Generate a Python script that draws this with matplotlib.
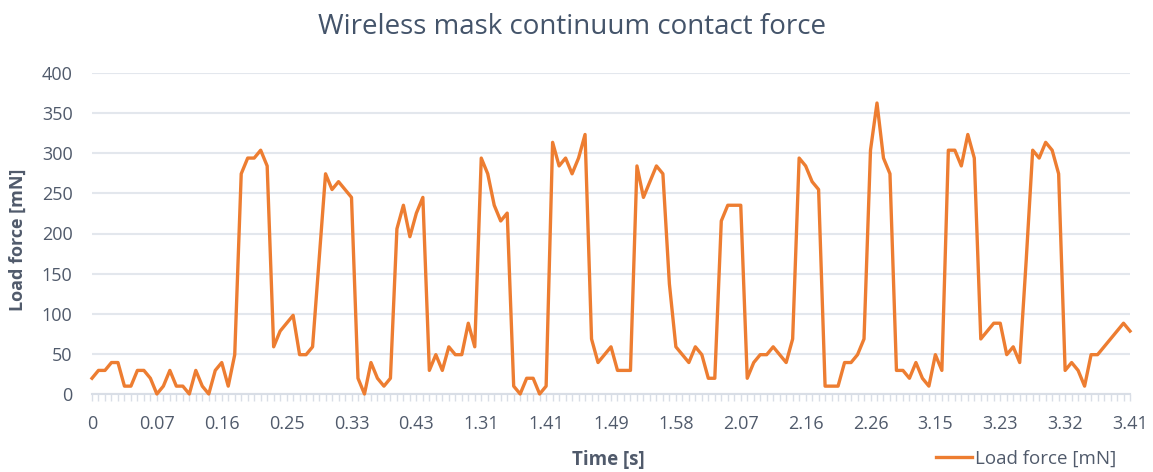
import matplotlib
matplotlib.use("Agg")
import matplotlib.pyplot as plt
import numpy as np

title = "Wireless mask continuum contact force"
x_label = "Time [s]"
y_label = "Load force [mN]"
series_name = "Load force [mN]"

tick_labels = ["0", "0.07", "0.16", "0.25", "0.33", "0.43", "1.31", "1.41", "1.49",
               "1.58", "2.07", "2.16", "2.26", "3.15", "3.23", "3.32", "3.41"]

load_force = [
    19.6, 29.4, 29.4, 39.2, 39.2, 9.8, 9.8, 29.4, 29.4, 19.6,
    0.0, 9.8, 29.4, 9.8, 9.8, 0.0, 29.4, 9.8, 0.0, 29.4,
    39.2, 9.8, 49.0, 274.4, 294.0, 294.0, 303.8, 284.2, 58.8, 78.4,
    88.2, 98.0, 49.0, 49.0, 58.8, 166.6, 274.4, 254.8, 264.6, 254.8,
    245.0, 19.6, 0.0, 39.2, 19.6, 9.8, 19.6, 205.8, 235.2, 196.0,
    225.4, 245.0, 29.4, 49.0, 29.4, 58.8, 49.0, 49.0, 88.2, 58.8,
    294.0, 274.4, 235.2, 215.6, 225.4, 9.8, 0.0, 19.6, 19.6, 0.0,
    9.8, 313.6, 284.2, 294.0, 274.4, 294.0, 323.4, 68.6, 39.2, 49.0,
    58.8, 29.4, 29.4, 29.4, 284.2, 245.0, 264.6, 284.2, 274.4, 137.2,
    58.8, 49.0, 39.2, 58.8, 49.0, 19.6, 19.6, 215.6, 235.2, 235.2,
    235.2, 19.6, 39.2, 49.0, 49.0, 58.8, 49.0, 39.2, 68.6, 294.0,
    284.2, 264.6, 254.8, 9.8, 9.8, 9.8, 39.2, 39.2, 49.0, 68.6,
    303.8, 362.6, 294.0, 274.4, 29.4, 29.4, 19.6, 39.2, 19.6, 9.8,
    49.0, 29.4, 303.8, 303.8, 284.2, 323.4, 294.0, 68.6, 78.4, 88.2,
    88.2, 49.0, 58.8, 39.2, 166.6, 303.8, 294.0, 313.6, 303.8, 274.4,
    29.4, 39.2, 29.4, 9.8, 49.0, 49.0, 58.8, 68.6, 78.4, 88.2,
    78.4,
]

label_step = 10
text_color = "#505A6B"
title_color = "#44546A"
grid_color = "#E3E7ED"
line_color = "#ED7D31"

plt.rcParams['font.family'] = ['Open Sans', 'DejaVu Sans']

fig = plt.figure(figsize=(11.53, 4.72), dpi=100)
ax = fig.add_axes([92/1153, 1-394/472, (1130-92)/1153, (394-73)/472])

x = np.arange(len(load_force))
ax.plot(x, load_force, color=line_color, linewidth=2.4, solid_joinstyle='round',
        label=series_name, zorder=3, clip_on=False)

ax.set_xlim(0, len(load_force) - 1)
ax.set_ylim(0, 400)
ax.set_yticks(np.arange(0, 401, 50))
ax.yaxis.grid(True, color=grid_color, linewidth=1.5)
ax.set_axisbelow(True)

ax.set_xticks(x[::label_step])
ax.set_xticklabels(tick_labels)
ax.set_xticks(x, minor=True)

for s in ["top", "right", "left"]:
    ax.spines[s].set_visible(False)
ax.spines["bottom"].set_color("#D9DEE6")
ax.spines["bottom"].set_linewidth(1.5)

ax.tick_params(axis="y", length=0, pad=14, labelsize=13, labelcolor=text_color)
ax.tick_params(axis="x", which="major", length=5, width=1, color="#D9DEE6",
               pad=10, labelsize=13, labelcolor=text_color)
ax.tick_params(axis="x", which="minor", length=5, width=1, color="#D9DEE6")

fig.text(572/1153, 1-27/472, title, ha="center", va="center",
         fontsize=20, color=title_color)
fig.text(608/1153, 1-460/472, x_label, ha="center", va="center",
         fontsize=13.5, fontweight="bold", color=text_color)
fig.text(18/1153, 1-240/472, y_label, ha="center", va="center", rotation=90,
         fontsize=13, fontweight="bold", color=text_color)

leg = fig.legend(loc="center right", bbox_to_anchor=(1116/1153, 1-459/472),
                 frameon=False, fontsize=13.5, handlelength=1.9, handletextpad=0.15,
                 borderpad=0, borderaxespad=0)
for t in leg.get_texts():
    t.set_color(text_color)

fig.savefig("out.png", dpi=100)
